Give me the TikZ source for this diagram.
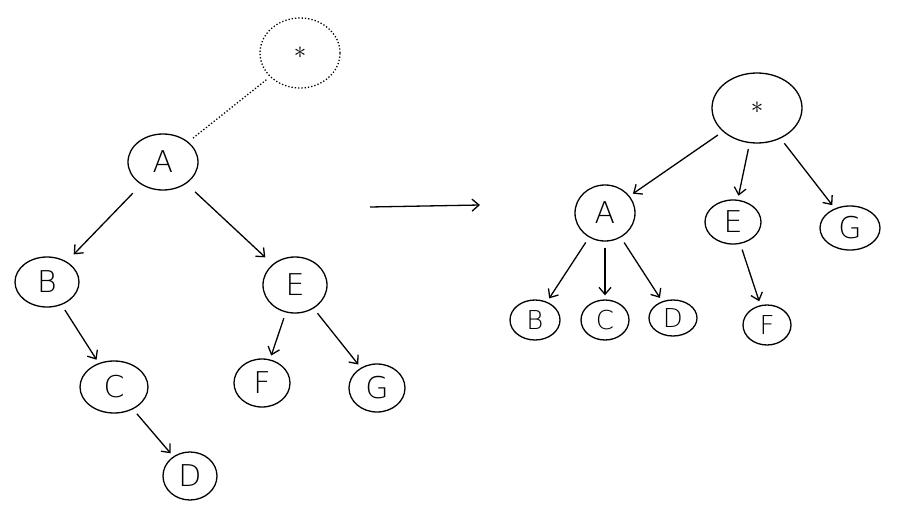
\documentclass[tikz,border=0pt]{standalone}
\usepackage{fontspec}
\setmainfont{DejaVu Sans ExtraLight}
\usetikzlibrary{shapes.geometric,arrows.meta}
\begin{document}
\begin{tikzpicture}[x=1pt,y=-1pt,line width=1.3pt,
  nd/.style={draw,ellipse,inner sep=0pt,font=\fontsize{30}{34}\selectfont},
  ar/.style={-{Straight Barb[length=7pt,width=12pt]},shorten <=6pt,shorten >=4pt}]
\useasboundingbox (0,0) rectangle (913,522);
% left tree
\node[nd,dotted,minimum width=80pt,minimum height=70pt,font=\fontsize{60}{60}\selectfont] (s) at (300,53) {$\ast$};
\node[nd,minimum width=70pt,minimum height=56pt] (A) at (163,162) {A};
\node[nd,minimum width=64pt,minimum height=50pt] (B) at (47,282) {B};
\node[nd,minimum width=68pt,minimum height=52pt] (C) at (114,387) {C};
\node[nd,minimum width=54pt,minimum height=48pt] (D) at (190,476) {D};
\node[nd,minimum width=64pt,minimum height=56pt] (E) at (295,285) {E};
\node[nd,minimum width=56pt,minimum height=48pt] (F) at (262,383) {F};
\node[nd,minimum width=56pt,minimum height=48pt] (G) at (377,388) {G};
\draw[dotted,shorten <=6pt,shorten >=4pt] (A) -- (s);
\draw[ar,shorten <=12pt,shorten >=10pt] (A) -- (B);
\draw[ar,shorten <=12pt,shorten >=10pt] (A) -- (E);
\draw[ar] (B) -- (C);
\draw[ar] (C) -- (D);
\draw[ar] (E) -- (F);
\draw[ar] (E) -- (G);
\coordinate (m1) at (370,207);
\coordinate (m2) at (480,205);
\draw[-{Straight Barb[length=7pt,width=12pt]}] (m1) -- (m2);
% right tree
\node[nd,minimum width=90pt,minimum height=70pt,font=\fontsize{60}{60}\selectfont] (s2) at (757,108) {$\ast$};
\node[nd,minimum width=60pt,minimum height=56pt] (A2) at (605,213) {A};
\node[nd,minimum width=56pt,minimum height=44pt] (E2) at (733,222) {E};
\node[nd,minimum width=60pt,minimum height=44pt] (G2) at (850,228) {G};
\node[nd,minimum width=50pt,minimum height=40pt,font=\fontsize{26}{30}\selectfont] (B2) at (535,320) {B};
\node[nd,minimum width=48pt,minimum height=40pt,font=\fontsize{26}{30}\selectfont] (C2) at (605,320) {C};
\node[nd,minimum width=48pt,minimum height=36pt,font=\fontsize{26}{30}\selectfont] (D2) at (673,318) {D};
\node[nd,minimum width=48pt,minimum height=40pt,font=\fontsize{26}{30}\selectfont] (F2) at (767,325) {F};
\draw[ar] (s2) -- (A2);
\draw[ar] (s2) -- (E2);
\draw[ar] (s2) -- (G2);
\draw[ar] (A2) -- (B2);
\draw[ar] (A2) -- (C2);
\draw[ar] (A2) -- (D2);
\draw[ar] (E2) -- (F2);
\end{tikzpicture}
\end{document}
